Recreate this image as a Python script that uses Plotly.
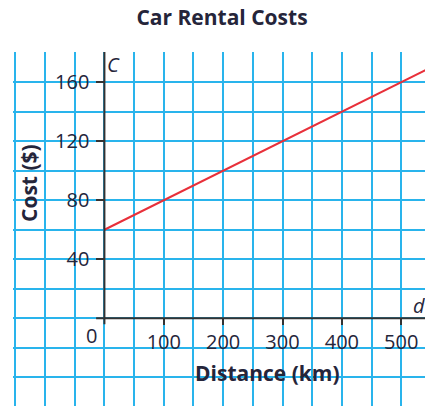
import plotly.graph_objects as go

# ---- data ----
distance_km = [0, 550]
cost_usd = [60, 170]
x_tick_vals = [100, 200, 300, 400, 500]
x_tick_text = ["100", "200", "300", "400", "500"]
y_tick_vals = [40, 80, 120, 160]
y_tick_text = ["40", "80", "120", "160"]

title_text = "Car Rental Costs"
x_title = "Distance (km)"
y_title = "Cost ($)"

# ---- layout constants ----
W, H = 425, 406
ML, MR, MT, MB = 13, 0, 52, 0
X_RANGE = [-154, 540]
Y_RANGE = [-59.5, 180.5]
GRID = "#29b4ec"
INK = "#25253a"
AXIS = "#333333"
FONT = "Open Sans"
TICK_SIZE = 20
TITLE_SIZE = 21

x_pos = (0 - X_RANGE[0]) / (X_RANGE[1] - X_RANGE[0])
y_pos = (0 - Y_RANGE[0]) / (Y_RANGE[1] - Y_RANGE[0])

fig = go.Figure()
fig.add_trace(go.Scatter(x=distance_km, y=cost_usd, mode="lines",
                         line=dict(color="#e8303a", width=2),
                         hoverinfo="skip", showlegend=False))

fig.update_layout(
    width=W, height=H,
    margin=dict(l=ML, r=MR, t=MT, b=MB, autoexpand=False),
    paper_bgcolor="white", plot_bgcolor="white",
    showlegend=False,
    title=dict(text=f"<b>{title_text}</b>", x=222 / W, xanchor="center",
               y=1 - 18 / H, yanchor="middle",
               font=dict(family=FONT, size=TITLE_SIZE, color=INK)),
    xaxis=dict(range=X_RANGE, anchor="free", position=y_pos,
               tickmode="array", tickvals=x_tick_vals, ticktext=x_tick_text,
               ticks="outside", ticklen=6, tickwidth=2, tickcolor=AXIS,
               tickfont=dict(family=FONT, size=TICK_SIZE, color=INK),
               showgrid=True, gridcolor=GRID, gridwidth=2,
               minor=dict(tickmode="linear", tick0=0, dtick=50, showgrid=True,
                          gridcolor=GRID, gridwidth=2, ticks=""),
               zeroline=False, showline=False, fixedrange=True),
    yaxis=dict(range=Y_RANGE, anchor="free", position=x_pos,
               tickmode="array", tickvals=y_tick_vals, ticktext=y_tick_text,
               ticks="outside", ticklen=8, tickwidth=2, tickcolor=AXIS,
               ticklabelstandoff=3,
               tickfont=dict(family=FONT, size=TICK_SIZE, color=INK),
               showgrid=True, gridcolor=GRID, gridwidth=2,
               minor=dict(tickmode="linear", tick0=0, dtick=20, showgrid=True,
                          gridcolor=GRID, gridwidth=2, ticks=""),
               zeroline=False, showline=False, fixedrange=True),
)

# axis lines through the origin
fig.add_shape(type="line", xref="x", yref="y", x0=0, x1=0,
              y0=-4, y1=Y_RANGE[1], line=dict(color=AXIS, width=2))
fig.add_shape(type="line", xref="x", yref="y", x0=-14, x1=X_RANGE[1],
              y0=0, y1=0, line=dict(color=AXIS, width=2))

def px_to_paper_x(px):
    return (px - ML) / (W - ML - MR)

def px_to_paper_y(py):
    return (H - MB - py) / (H - MT - MB)

def label(text, px, py, size, angle=0):
    fig.add_annotation(text=text, xref="paper", yref="paper",
                       x=px_to_paper_x(px), y=px_to_paper_y(py),
                       xanchor="center", yanchor="middle", textangle=angle,
                       showarrow=False,
                       font=dict(family=FONT, size=size, color=INK))

label(f"<b>{x_title}</b>", 267, 373, TITLE_SIZE)
label(f"<b>{y_title}</b>", 29, 183, TITLE_SIZE, angle=-90)
label("0", 91, 335, TICK_SIZE)
label("<i>C</i>", 113, 64, TICK_SIZE)
label("<i>d</i>", 419, 305, TICK_SIZE)

fig.write_html("out.html",
               config={"displayModeBar": False, "staticPlot": True},
               post_script="document.body.style.margin='0';"
                           "document.body.style.overflow='hidden';")
